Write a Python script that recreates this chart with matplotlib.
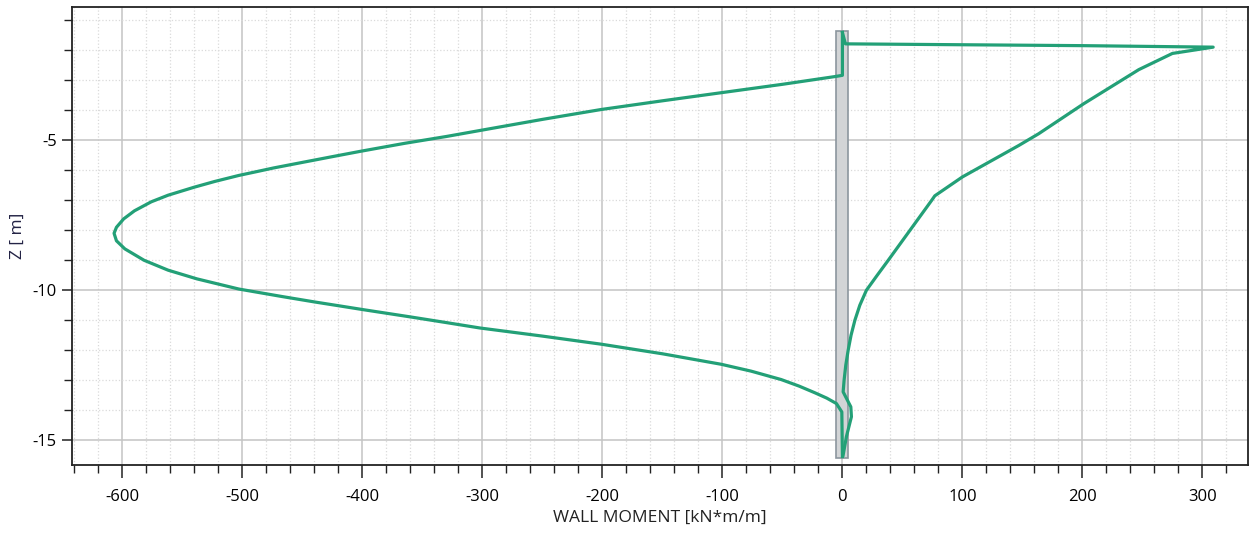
import numpy as np
import matplotlib
matplotlib.use('Agg')
import matplotlib.pyplot as plt
from matplotlib.ticker import MultipleLocator
from matplotlib.patches import Rectangle

plt.rcParams['font.family'] = ['Open Sans', 'DejaVu Sans']
plt.rcParams['font.size'] = 12
plt.rcParams['axes.unicode_minus'] = False

# wall moment envelope, left (negative) branch: moment [kN*m/m], depth z [m]
m_left = [0, 0, -6, -50, -101, -150, -201, -250, -302, -330, -365, -401,
          -426, -452, -474, -489, -503, -523, -540, -562, -576, -590, -599, -605,
          -607, -605, -598, -582, -562, -538, -503, -467, -440, -421, -399, -360, -330,
          -302, -250, -201, -150, -101, -76, -51, -36, -23, -13, -5, -0.5, 0]
z_left = [-1.4, -2.83, -2.87, -3.13, -3.41, -3.68, -3.97, -4.3, -4.67, -4.87, -5.1, -5.36,
          -5.55, -5.75, -5.92, -6.05, -6.17, -6.37, -6.56, -6.83, -7.05, -7.35, -7.62, -7.9,
          -8.1, -8.35, -8.62, -9.0, -9.33, -9.62, -9.96, -10.21, -10.39, -10.51, -10.65, -10.89, -11.08,
          -11.26, -11.53, -11.8, -12.12, -12.47, -12.7, -12.98, -13.2, -13.42, -13.6, -13.78, -14.06, -15.55]

# right (positive) branch
m_right = [0, 2.5, 100, 200, 309, 275, 247, 201, 163.5, 147, 100, 77, 74.4,
           56.3, 38.2, 29, 20, 14.5, 10.4, 7.2, 4.8, 2.8, 1.4, 0.6, 7, 7.5, 3.3, 0.6]
z_right = [-1.4, -1.78, -1.81, -1.84, -1.89, -2.1, -2.64, -3.78, -4.78, -5.17, -6.22, -6.85, -7.0,
           -8.0, -9.0, -9.5, -10.0, -10.5, -11.0, -11.5, -12.0, -12.5, -13.0, -13.39, -13.89, -14.22, -14.89, -15.5]

# wall extent
wall_x = [-5, 5]
wall_z = [-1.35, -15.6]

green = '#23a077'

fig = plt.figure(figsize=(12.51, 5.33), dpi=100)
ax = fig.add_axes([0.0576, 0.1276, 0.94, 0.8593])

ax.add_patch(Rectangle((wall_x[0], wall_z[1]), wall_x[1] - wall_x[0], wall_z[0] - wall_z[1],
                       facecolor='#d2d4d6', edgecolor='#8c969e', linewidth=1.2, zorder=3))

ax.plot(m_left, z_left, color=green, linewidth=2.3, zorder=4, solid_joinstyle='round')
ax.plot(m_right, z_right, color=green, linewidth=2.3, zorder=4, solid_joinstyle='round')

ax.set_xlim(-642, 338)
ax.set_ylim(-15.83, -0.55)

ax.xaxis.set_major_locator(MultipleLocator(100))
ax.xaxis.set_minor_locator(MultipleLocator(20))
ax.yaxis.set_major_locator(MultipleLocator(5))
ax.yaxis.set_minor_locator(MultipleLocator(1))

ax.grid(which='major', color='#c4c4c4', linewidth=1.1, linestyle='-', zorder=0)
ax.grid(which='minor', color='#dadada', linewidth=0.9, linestyle=':', zorder=0)
ax.set_axisbelow(True)

for s in ax.spines.values():
    s.set_color('#222222')
    s.set_linewidth(1.3)

ax.tick_params(which='major', direction='out', length=9, width=1.1, color='#222222',
               labelsize=12, pad=8)
ax.tick_params(which='minor', direction='out', length=6, width=1.0, color='#222222')
ax.tick_params(axis='y', which='major', length=7, pad=4)
ax.tick_params(axis='y', which='minor', length=6)

ax.set_xlabel('WALL MOMENT [kN*m/m]', fontsize=12.5, labelpad=4, color='#222222')
ax.set_ylabel('Z [ m]', fontsize=12.5, labelpad=5, color='#222244')

plt.savefig('out.png', dpi=100)
